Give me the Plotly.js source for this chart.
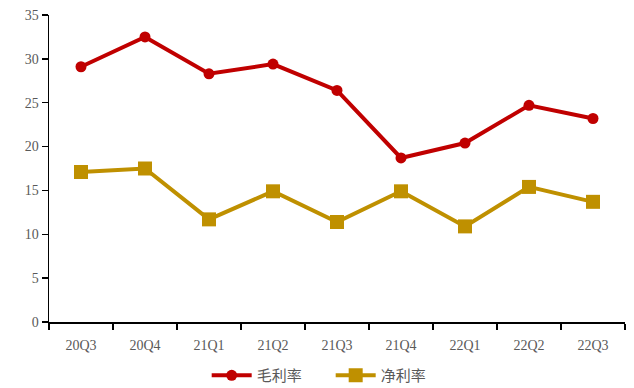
<!DOCTYPE html>
<html>
<head>
<meta charset="utf-8">
<script src="https://cdn.plot.ly/plotly-3.0.1.min.js"></script>
<style>html,body{margin:0;padding:0;background:#fff;}#chart{width:634px;height:388px;}</style>
</head>
<body>
<div id="chart"></div>
<script>
const categories = ["20Q3","20Q4","21Q1","21Q2","21Q3","21Q4","22Q1","22Q2","22Q3"];
const grossMargin = [29.1, 32.5, 28.3, 29.4, 26.4, 18.7, 20.4, 24.7, 23.2];
const netMargin = [17.1, 17.5, 11.7, 14.9, 11.4, 14.9, 10.9, 15.4, 13.7];
const yTicks = [0,5,10,15,20,25,30,35];

const traces = [
  {x: categories, y: grossMargin, name: "毛利率", type: "scatter", mode: "lines+markers",
   line: {color: "#C00000", width: 4}, marker: {symbol: "circle", size: 11, color: "#C00000"}},
  {x: categories, y: netMargin, name: "净利率", type: "scatter", mode: "lines+markers",
   line: {color: "#BF9000", width: 4}, marker: {symbol: "square", size: 14, color: "#BF9000"}}
];

const layout = {
  width: 634, height: 388,
  margin: {l: 49, r: 9, t: 15, b: 66},
  paper_bgcolor: "#fff", plot_bgcolor: "#fff",
  font: {family: "Liberation Serif, 'Times New Roman', serif", size: 14, color: "#595959"},
  showlegend: true,
  legend: {orientation: "h", xref: "container", yref: "container",
           x: 0.326, xanchor: "left", y: 0.032, yanchor: "middle",
           itemwidth: 40, entrywidth: 69, entrywidthmode: "pixels",
           font: {family: "'Noto Sans CJK SC', serif", size: 15, color: "#595959"}},
  xaxis: {type: "category", range: [-0.5, categories.length - 0.5],
          showline: true, linecolor: "#000", linewidth: 1.5,
          ticks: "outside", tickson: "boundaries", ticklen: 6, tickcolor: "#000", tickwidth: 1.5,
          ticklabelstandoff: 10,
          showgrid: false, zeroline: false, fixedrange: true, automargin: false},
  yaxis: {range: [0, 35], tickvals: yTicks, showline: true, linecolor: "#000", linewidth: 1.5,
          ticks: "outside", ticklen: 6, tickcolor: "#000", tickwidth: 1.5,
          showgrid: false, zeroline: false, fixedrange: true, automargin: false}
};

Plotly.newPlot("chart", traces, layout, {displayModeBar: false, staticPlot: true});
</script>
</body>
</html>
